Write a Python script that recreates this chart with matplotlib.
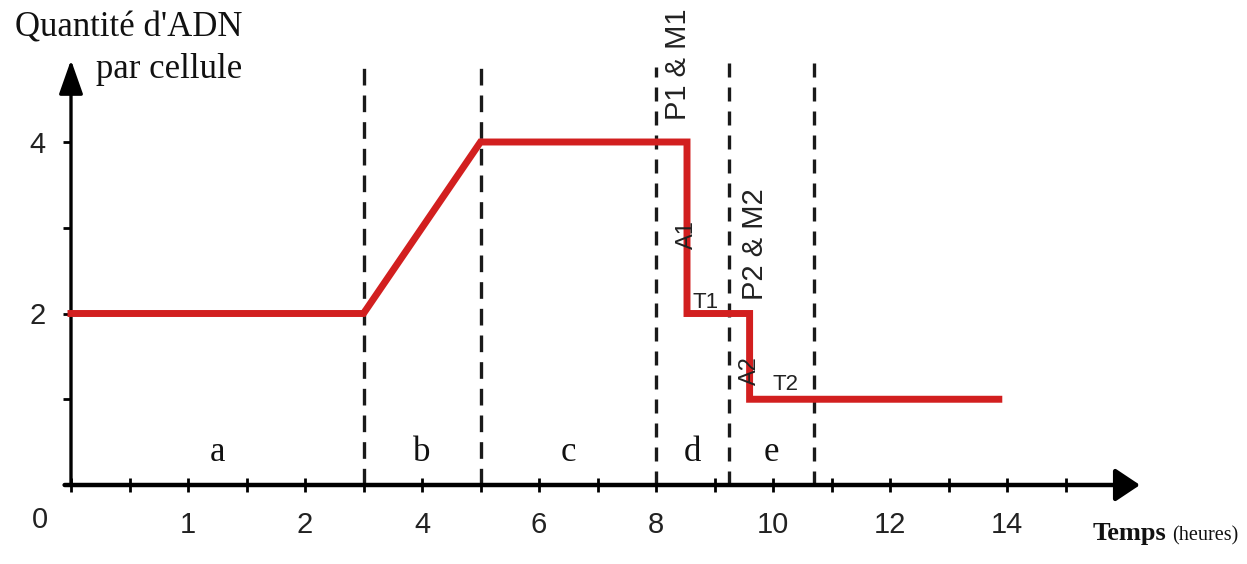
import numpy as np
import matplotlib
matplotlib.use("Agg")
import matplotlib.pyplot as plt

# Quantité d'ADN par cellule au cours du temps (heures)
temps = [0, 3, 5, 8.53, 8.53, 9.6, 9.6, 13.86]
adn = [2, 2, 4, 4, 2, 2, 1, 1]

# limites des phases (heures) et hauteur de leurs pointillés
limites = [0, 3, 5, 8, 9.25, 10.7]
hauts_pointilles = [4.86, 4.86, 4.87, 4.99, 4.99]
phases = ["a", "b", "c", "d", "e"]

# graduations de l'axe du temps
x_majeurs = [1, 2, 4, 6, 8, 10, 12, 14]
x_labels = ["1", "2", "4", "6", "8", "10", "12", "14"]
x_mineurs = [0, 0.5, 1.5, 3, 5, 7, 9, 11, 13, 15]
y_ticks = [1, 2, 3, 4]
y_labels = ["", "2", "", "4"]

W, H = 1247, 564
ROUGE = "#d21f1f"
SERIF = ["Liberation Serif", "DejaVu Serif"]
NARROW = ["Liberation Sans Narrow", "Liberation Sans", "DejaVu Sans"]


def vers_echelle(h):
    h = np.asarray(h, dtype=float)
    return np.where(h <= 2, 2 * h, h + 2)


def depuis_echelle(u):
    u = np.asarray(u, dtype=float)
    return np.where(u <= 4, u / 2, u - 2)


fig = plt.figure(figsize=(W / 100, H / 100), dpi=100)
fig.patch.set_facecolor("white")
ax = fig.add_axes([71 / W, 79 / H, (1140 - 71) / W, (485 - 60) / H])
ax.set_xscale("function", functions=(vers_echelle, depuis_echelle))
ax.set_xlim(0, float(depuis_echelle((1140 - 71) / 58.5)))
ax.set_ylim(0, (485 - 60) / 85.75)

for s in ax.spines.values():
    s.set_visible(False)

# axes fléchés
ax.annotate("", xy=(1, 0), xytext=(-0.006, 0), xycoords="axes fraction",
            arrowprops=dict(arrowstyle="-|>,head_length=0.75,head_width=0.5",
                            mutation_scale=20, lw=3.2, color="black",
                            shrinkA=0, shrinkB=0), annotation_clip=False)
ax.annotate("", xy=(0, 1), xytext=(0, 0), xycoords="axes fraction",
            arrowprops=dict(arrowstyle="-|>,head_length=1.05,head_width=0.37",
                            mutation_scale=20, lw=2.4, color="black",
                            shrinkA=0, shrinkB=0), annotation_clip=False)

# pointillés séparant les phases
for xb, yt in zip(limites[1:], hauts_pointilles):
    style = (0, (5, 3)) if xb <= 5 else (0, (4.2, 3))
    ax.plot([xb, xb], [0, yt], color="#1a1a1a", lw=2.4, linestyle=style,
            clip_on=False, zorder=2)

# courbe
ax.plot(temps, adn, color=ROUGE, lw=5, solid_joinstyle="miter", zorder=3,
        clip_on=False)

# lettres des phases au milieu de chaque intervalle
u_lim = vers_echelle(limites)
for i, lettre in enumerate(phases):
    xm = float(depuis_echelle((u_lim[i] + u_lim[i + 1]) / 2))
    ax.text(xm, 0.28, lettre, fontsize=25, family=SERIF, ha="center",
            va="baseline", color="#111111")

# graduations
ax.set_xticks(x_majeurs)
ax.set_xticklabels(x_labels, family=NARROW, fontsize=21, color="#222222")
ax.set_xticks(x_mineurs, minor=True)
ax.tick_params(axis="x", which="both", direction="inout", length=10, width=2,
               pad=14, color="black")
ax.set_yticks(y_ticks)
ax.set_yticklabels(y_labels, family=NARROW, fontsize=21, color="#222222")
ax.tick_params(axis="y", direction="out", length=6, width=2, pad=12,
               color="black")

# annotations des étapes de la méiose
ax.text(8.38, 4.26, "P1 & M1", rotation=90, fontsize=21, family=NARROW,
        ha="center", va="bottom", clip_on=False, color="#222222")
ax.text(9.69, 2.16, "P2 & M2", rotation=90, fontsize=21, family=NARROW,
        ha="center", va="bottom", clip_on=False, color="#222222")
ax.text(8.53, 2.92, "A1", rotation=90, fontsize=17, family=NARROW,
        ha="center", va="center", color="#222222", zorder=4)
ax.text(9.6, 1.34, "A2", rotation=90, fontsize=17, family=NARROW,
        ha="center", va="center", color="#222222", zorder=4)
ax.text(8.84, 2.13, "T1", fontsize=16, family=NARROW, ha="center",
        va="center", color="#222222")
ax.text(10.22, 1.17, "T2", fontsize=16, family=NARROW, ha="center",
        va="center", color="#222222")


def px(x, y):
    return x / W, 1 - y / H


fig.text(*px(40, 520), "0", family=NARROW, fontsize=21, ha="center",
         va="center", color="#222222")
fig.text(*px(242, 36), "Quantité d'ADN", family=SERIF, fontsize=25,
         ha="right", va="baseline", color="#111111")
fig.text(*px(242, 78), "par cellule", family=SERIF, fontsize=25,
         ha="right", va="baseline", color="#111111")
fig.text(*px(1093, 540), "Temps", family=SERIF, fontsize=19,
         fontweight="bold", ha="left", va="baseline", color="#111111")
fig.text(*px(1172, 540), "(heures)", family=SERIF, fontsize=14.5,
         ha="left", va="baseline", color="#111111")

fig.savefig("out.png", dpi=100, facecolor="white")
